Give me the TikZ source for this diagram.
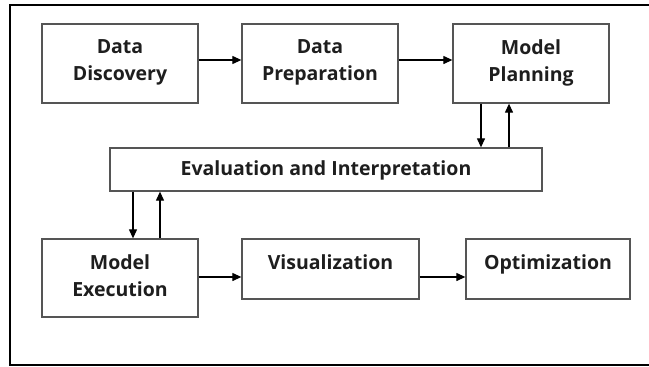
\documentclass[tikz,border=0pt]{standalone}
\usepackage{fontspec}
\setmainfont{Open Sans}
\usetikzlibrary{arrows.meta}
\definecolor{boxline}{HTML}{555555}
\definecolor{ink}{HTML}{1E1E1E}
\begin{document}
\begin{tikzpicture}[x=1pt,y=-1pt,
  box/.style={draw=boxline,line width=1.3pt,fill=white,inner sep=0pt},
  lbl/.style={anchor=north,align=center,font=\fontsize{19.5}{27}\selectfont\bfseries,text=ink,inner sep=0pt},
  arr/.style={draw=black,line width=1.2pt,-{Triangle[length=9pt,width=8pt]}}]
\useasboundingbox (0,0) rectangle (649,367);
% outer frame (its right edge lies past the page)
\draw[line width=2pt] (660,5) -- (10,5) -- (10,365) -- (660,365);
% process boxes
\node[box,minimum width=156pt,minimum height=79pt] (dd) at (120,63.5) {};
\node[box,minimum width=156pt,minimum height=79pt] (dp) at (320,63.5) {};
\node[box,minimum width=156pt,minimum height=79pt] (mp) at (531,63.5) {};
\node[box,minimum width=432pt,minimum height=43pt] (ev) at (326,169.5) {};
\node[box,minimum width=156pt,minimum height=78pt] (me) at (120,278) {};
\node[box,minimum width=177pt,minimum height=60pt] (vi) at (330.5,269) {};
\node[box,minimum width=164pt,minimum height=60pt] (op) at (548,269) {};
% labels
\node[lbl] (ddt) at (120,39) {Data\\Discovery};
\node[lbl] (dpt) at (320,39) {Data\\Preparation};
\node[lbl] (mpt) at (531,39) {Model\\Planning};
\node[lbl,anchor=center] (evt) at (326,170) {Evaluation and Interpretation};
\node[lbl] (met) at (120,254) {Model\\Execution};
\node[lbl] (vit) at (330.5,254) {Visualization};
\node[lbl] (opt) at (548,254) {Optimization};
% connectors
\coordinate (r1) at (0,60);
\coordinate (r2) at (0,277);
\coordinate (c1) at (481,0);
\coordinate (c2) at (509,0);
\coordinate (c3) at (133,0);
\coordinate (c4) at (160,0);
\draw[arr] (dd.east |- r1) -- (dp.west |- r1);
\draw[arr] (dp.east |- r1) -- (mp.west |- r1);
\draw[arr] (c1 |- mp.south) -- (c1 |- ev.north);
\draw[arr] (c2 |- ev.north) -- (c2 |- mp.south);
\draw[arr] (c3 |- ev.south) -- (c3 |- me.north);
\draw[arr] (c4 |- me.north) -- (c4 |- ev.south);
\draw[arr] (me.east |- r2) -- (vi.west |- r2);
\draw[arr] (vi.east |- r2) -- (op.west |- r2);
\end{tikzpicture}
\end{document}
